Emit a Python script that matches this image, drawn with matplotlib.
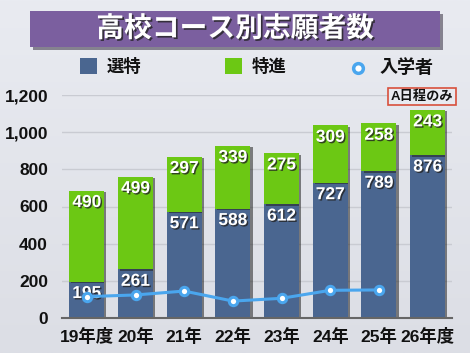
import numpy as np
import matplotlib
matplotlib.use("Agg")
import matplotlib.pyplot as plt
import matplotlib.patheffects as pe
from matplotlib.patches import Rectangle
from matplotlib.lines import Line2D

plt.rcParams['font.family'] = ['Liberation Sans', 'Noto Sans CJK JP', 'DejaVu Sans']
plt.rcParams['font.weight'] = 'bold'

# データ
years = ['19年度', '20年', '21年', '22年', '23年', '24年', '25年', '26年度']
sentoku = [195, 261, 571, 588, 612, 727, 789, 876]     # 選特
tokushin = [490, 499, 297, 339, 275, 309, 258, 243]    # 特進
entrants = [115, 124, 145, 91, 106, 149, 151]           # 入学者 (26年度なし)
yticks = [0, 200, 400, 600, 800, 1000, 1200]

BLUE = '#4a6690'
GREEN = '#6cc814'
LINE = '#4aa6ee'

fig = plt.figure(figsize=(4.7, 3.53), dpi=100)

# 背景グラデーション
bg = fig.add_axes([0, 0, 1, 1], zorder=-10)
grad = np.linspace(0, 1, 256).reshape(-1, 1)
bg.imshow(grad, aspect='auto', cmap=matplotlib.colors.LinearSegmentedColormap.from_list(
    'bg', ['#e9ebf1', '#dcdee5']), extent=[0, 1, 0, 1], origin='upper')
bg.axis('off')

# タイトル
fig.patches.append(Rectangle((0.064, 0.867), 0.872, 0.102, transform=fig.transFigure,
                             facecolor='#7b5f9f', edgecolor='none', zorder=1,
                             path_effects=[pe.SimplePatchShadow(offset=(2, -2), alpha=0.5), pe.Normal()]))
fig.text(0.5, 0.917, '高校コース別志願者数', ha='center', va='center', color='white',
         fontsize=20, fontweight='bold', zorder=2,
         path_effects=[pe.withSimplePatchShadow(offset=(1.2, -1.2), shadow_rgbFace='#222222', alpha=0.8)])

# 凡例
fig.patches.append(Rectangle((80 / 470, 1 - 74 / 353), 17 / 470, 16 / 353, transform=fig.transFigure,
                             facecolor=BLUE, edgecolor='none'))
fig.text(107 / 470, 1 - 66 / 353, '選特', va='center', ha='left', fontsize=12.5, color='#111111')
fig.patches.append(Rectangle((225 / 470, 1 - 74 / 353), 17 / 470, 16 / 353, transform=fig.transFigure,
                             facecolor=GREEN, edgecolor='none'))
fig.text(252 / 470, 1 - 66 / 353, '特進', va='center', ha='left', fontsize=12.5, color='#111111')
fig.lines.append(Line2D([358 / 470], [1 - 68 / 353], transform=fig.transFigure, marker='o',
                        markersize=7, markerfacecolor='white', markeredgecolor=LINE, markeredgewidth=2.5,
                        linestyle='none'))
fig.text(380 / 470, 1 - 68 / 353, '入学者', va='center', ha='left', fontsize=13, color='#111111')

ax = fig.add_axes([62 / 470, 35 / 353, 390 / 470, 223 / 353])
ax.set_facecolor('none')
x = np.arange(len(years))
bar_fx = [pe.SimplePatchShadow(offset=(1.5, -1), alpha=0.55, shadow_rgbFace='#222222'), pe.Normal()]
ax.bar(x, sentoku, width=0.72, color=BLUE, zorder=3, path_effects=bar_fx)
ax.bar(x, tokushin, width=0.72, bottom=sentoku, color=GREEN, zorder=3, path_effects=bar_fx)

txt_fx = [pe.withSimplePatchShadow(offset=(1, -1), shadow_rgbFace='#222222', alpha=0.8)]
for i in range(len(years)):
    ax.annotate(str(sentoku[i]), (x[i], sentoku[i]), xytext=(0, -8.5), textcoords='offset points',
                ha='center', va='center', color='white', fontsize=12.5, fontweight='bold',
                zorder=4, path_effects=txt_fx)
    ax.annotate(str(tokushin[i]), (x[i], sentoku[i] + tokushin[i]), xytext=(0, -8.5),
                textcoords='offset points', ha='center', va='center', color='white',
                fontsize=12.5, fontweight='bold', zorder=4, path_effects=txt_fx)

ax.plot(x[:len(entrants)], entrants, color=LINE, lw=2.2, marker='o', markersize=6,
        markerfacecolor='white', markeredgecolor=LINE, markeredgewidth=2.2, zorder=5)

ax.set_xlim(-0.51, 7.5)
ax.set_ylim(0, 1200)
ax.set_yticks(yticks)
ax.set_yticklabels([f'{v:,}' for v in yticks])
ax.set_xticks(x)
ax.set_xticklabels(years)
ax.tick_params(axis='both', length=0, labelsize=12.5, colors='#111111')
ax.tick_params(axis='y', pad=10)
ax.tick_params(axis='x', pad=7)
for lab in ax.get_xticklabels() + ax.get_yticklabels():
    lab.set_fontweight('bold')
for s in ['top', 'right', 'left']:
    ax.spines[s].set_visible(False)
ax.spines['bottom'].set_color('#666666')
ax.spines['bottom'].set_linewidth(1.5)
ax.spines['bottom'].set_zorder(6)
ax.yaxis.grid(True, color='#c9cbd2', lw=1.0, zorder=0)
ax.set_axisbelow(True)

fig.text(422 / 470, 1 - 96.5 / 353, 'A日程のみ', ha='center', va='center', fontsize=9.5,
         color='#111111', zorder=7,
         bbox=dict(boxstyle='square,pad=0.2', facecolor='#e8eaf0', edgecolor='#d8503c', lw=1.2))

fig.savefig('out.png', dpi=100)
